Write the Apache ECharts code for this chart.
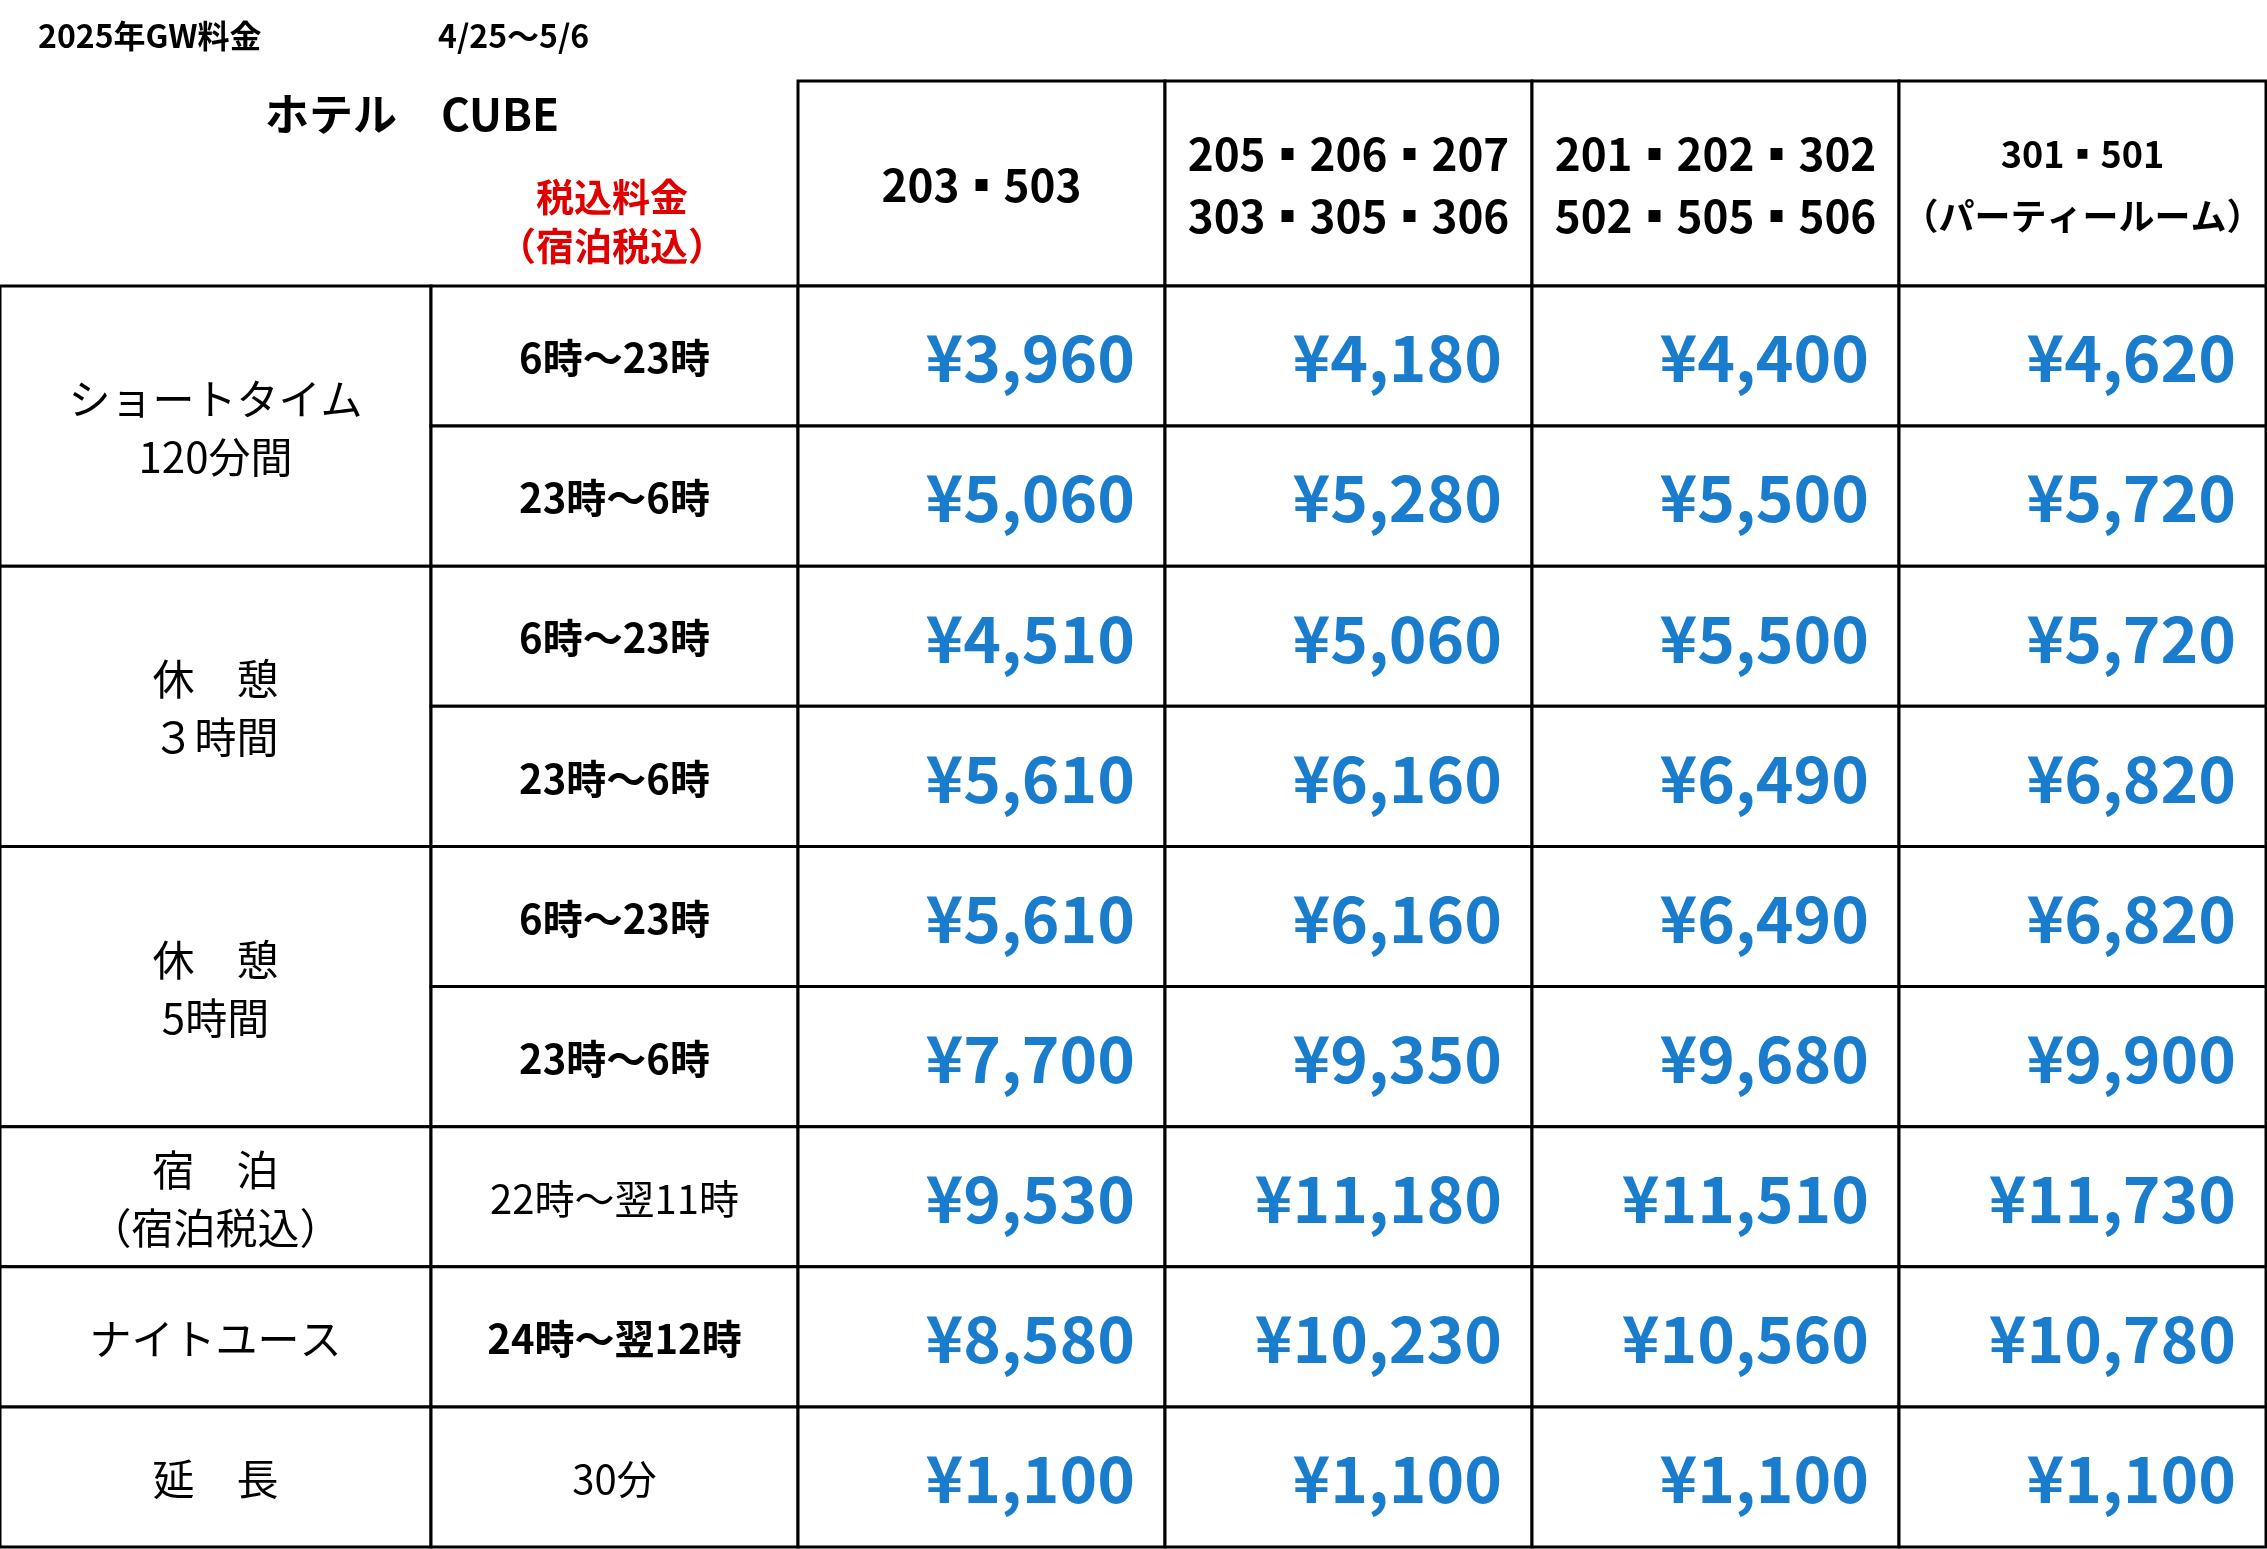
<!DOCTYPE html>
<html><head><meta charset="utf-8">
<script src="https://cdn.jsdelivr.net/npm/echarts@6/dist/echarts.min.js"></script>
<style>html,body{margin:0;background:#fff}#c{width:2267px;height:1549px}</style></head>
<body><div id="c"></div>
<script>
const roomHeaders = [["203▪503"],["205▪206▪207","303▪305▪306"],["201▪202▪302","502▪505▪506"],["301▪501","（パーティールーム）"]];
const groupLabels = [["ショートタイム","120分間"],["休　憩","３時間"],["休　憩","5時間"],["宿　泊","（宿泊税込）"],["ナイトユース"],["延　長"]];
const groupSpans = [2,2,2,1,1,1];
const timeLabels = ["6時～23時","23時～6時","6時～23時","23時～6時","6時～23時","23時～6時","22時～翌11時","24時～翌12時","30分"];
const timeBold = [1,1,1,1,1,1,0,1,0];
const prices = [
 [3960,4180,4400,4620],[5060,5280,5500,5720],[4510,5060,5500,5720],[5610,6160,6490,6820],
 [5610,6160,6490,6820],[7700,9350,9680,9900],[9530,11180,11510,11730],[8580,10230,10560,10780],[1100,1100,1100,1100]];
// layout
const colEdges=[0,431,798,1165,1532,1899,2266];
const headTop=81, headBot=286, rowH=(1547-286)/9;
const F='"Noto Sans CJK JP", sans-serif';
const cells=[];
roomHeaders.forEach((h,i)=>cells.push({x0:colEdges[i+2],x1:colEdges[i+3],y0:headTop,y1:headBot,t:h.join('\n'),kind:i===3?'head2':'head'}));
let r=0;
groupLabels.forEach((g,i)=>{cells.push({x0:colEdges[0],x1:colEdges[1],y0:headBot+r*rowH,y1:headBot+(r+groupSpans[i])*rowH,t:g.join('\n'),kind:'group'});r+=groupSpans[i];});
timeLabels.forEach((t,i)=>cells.push({x0:colEdges[1],x1:colEdges[2],y0:headBot+i*rowH,y1:headBot+(i+1)*rowH,t:t,kind:timeBold[i]?'timeB':'time'}));
prices.forEach((row,i)=>row.forEach((p,j)=>cells.push({x0:colEdges[j+2],x1:colEdges[j+3],y0:headBot+i*rowH,y1:headBot+(i+1)*rowH,t:'¥'+p.toLocaleString('en-US'),kind:'price'})));
const styles={head:{fontSize:44,fontWeight:'bold',color:'#000',lineHeight:62},head2:{fontSize:36,fontWeight:'bold',color:'#000',lineHeight:62},
 group:{fontSize:42,fontWeight:'normal',color:'#000',lineHeight:58},
 timeB:{fontSize:40,fontWeight:'bold',color:'#000'},time:{fontSize:40,fontWeight:'normal',color:'#000'},price:{fontSize:64,fontWeight:'bold',color:'#1a7ccc'}};
const chart=echarts.init(document.getElementById('c'));
chart.setOption({
 animation:false,
 grid:{left:0,right:0,top:0,bottom:0},
 xAxis:{type:'value',min:0,max:2267,show:false},
 yAxis:{type:'value',min:0,max:1549,inverse:true,show:false},
 graphic:[
  {type:'text',left:38,top:20,style:{text:'2025年GW料金',font:'bold 32px '+F,fill:'#000'}},
  {type:'text',left:438,top:20,style:{text:'4/25～5/6',font:'bold 32px '+F,fill:'#000'}},
  {type:'text',left:265,top:92,style:{text:'ホテル　CUBE',font:'bold 44px '+F,fill:'#000'}},
  {type:'text',style:{x:612,y:197,text:'税込料金',font:'bold 38px '+F,fill:'#e00000',align:'center',verticalAlign:'middle'}},
  {type:'text',style:{x:612,y:246,text:'（宿泊税込）',font:'bold 38px '+F,fill:'#e00000',align:'center',verticalAlign:'middle'}}
 ],
 series:[{type:'custom',coordinateSystem:'cartesian2d',
  data:cells.map(c=>[c.x0,c.y0,c.x1,c.y1]),
  renderItem:(params,api)=>{
   const c=cells[params.dataIndex];
   const p0=api.coord([c.x0,c.y0]),p1=api.coord([c.x1,c.y1]);
   const s=styles[c.kind];
   const isP=c.kind==='price';
   const tx=isP?p1[0]-30:(p0[0]+p1[0])/2;
   return {type:'group',children:[
    {type:'rect',shape:{x:p0[0],y:p0[1],width:p1[0]-p0[0],height:p1[1]-p0[1]},style:{fill:'#fff',stroke:'#000',lineWidth:3}},
    {type:'text',style:{text:c.t,x:tx,y:(p0[1]+p1[1])/2+2,align:isP?'right':'center',verticalAlign:'middle',
      fontFamily:F,fontSize:s.fontSize,fontWeight:s.fontWeight,fill:s.color,lineHeight:s.lineHeight}}
   ]};
  }}]
});
</script></body></html>
